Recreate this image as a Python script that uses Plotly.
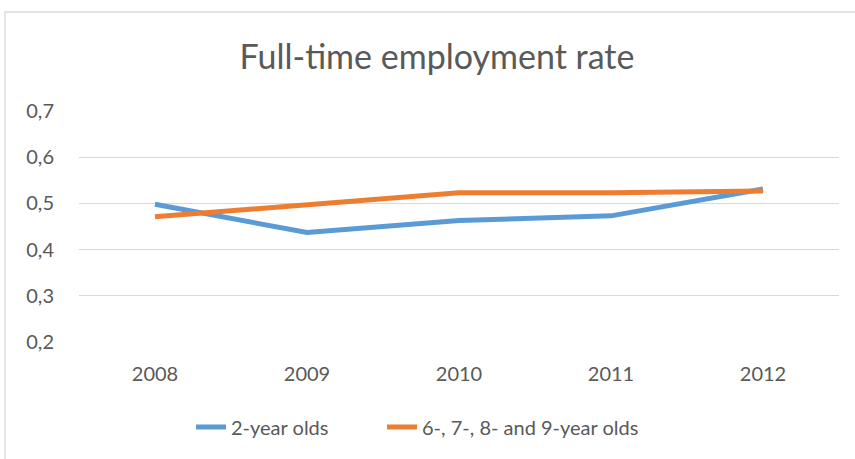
import plotly.graph_objects as go

years = ["2008", "2009", "2010", "2011", "2012"]
two_year_olds = [0.498, 0.437, 0.463, 0.473, 0.531]
older_children = [0.471, 0.498, 0.523, 0.523, 0.527]
y_ticks = [0.2, 0.3, 0.4, 0.5, 0.6, 0.7]
y_tick_text = ["0,2", "0,3", "0,4", "0,5", "0,6", "0,7"]

W, H = 855, 459
L, R, T, B = 79, 16, 111, 117
pw = W - L - R
ph = H - T - B

font_family = "Lato, 'Open Sans', sans-serif"
grey = "#595959"

fig = go.Figure()
fig.add_trace(go.Scatter(
    x=years, y=two_year_olds, mode="lines", name="2-year olds",
    line=dict(color="#5B9BD5", width=5, shape="linear"),
    legend="legend",
))
fig.add_trace(go.Scatter(
    x=years, y=older_children, mode="lines", name="6-, 7-, 8- and 9-year olds",
    line=dict(color="#ED7D31", width=5, shape="linear"),
    legend="legend2",
))

# chart outline (light grey frame around the whole chart)
fig.add_shape(
    type="rect", xref="paper", yref="paper",
    x0=(5 - L) / pw, x1=(W + 10 - L) / pw,
    y0=-(H + 10 - T - ph) / ph, y1=1 + (T - 12) / ph,
    line=dict(color="#D9D9D9", width=1.3), fillcolor="rgba(0,0,0,0)", layer="below",
)

legend_common = dict(
    orientation="h", xref="container", xanchor="left",
    yref="container", y=1 - 427 / H, yanchor="middle",
    font=dict(family=font_family, size=20, color=grey),
    bgcolor="rgba(0,0,0,0)",
)

fig.update_layout(
    width=W, height=H,
    margin=dict(l=L, r=R, t=T, b=B),
    paper_bgcolor="white", plot_bgcolor="white",
    title=dict(
        text="Full-time employment rate",
        x=437 / W, xanchor="center", xref="container",
        y=1 - 57 / H, yanchor="middle", yref="container",
        font=dict(family=font_family, size=34, color=grey),
    ),
    xaxis=dict(
        type="category", range=[-0.5, 4.5],
        showgrid=False, zeroline=False, showline=False,
        ticks="", ticklabelstandoff=18,
        tickfont=dict(family=font_family, size=20, color=grey),
    ),
    yaxis=dict(
        range=[0.2, 0.7], tickvals=y_ticks, ticktext=y_tick_text,
        showgrid=True, gridcolor="#D9D9D9", gridwidth=1.3,
        zeroline=False, showline=False, ticks="", ticklabelstandoff=24,
        tickfont=dict(family=font_family, size=20, color=grey),
    ),
    legend=dict(x=191 / W, **legend_common),
    legend2=dict(x=382 / W, **legend_common),
    showlegend=True,
)

fig.write_html("out.html")
